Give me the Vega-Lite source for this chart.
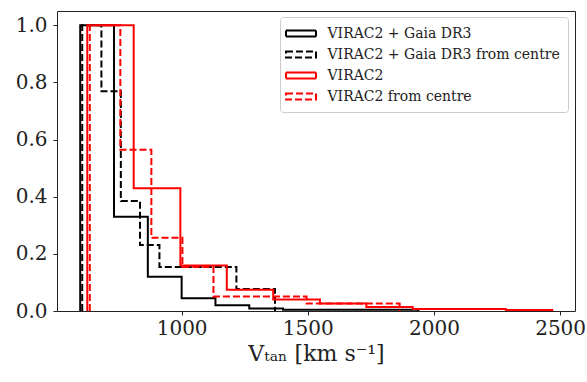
{
  "$schema": "https://vega.github.io/schema/vega-lite/v6.json",
  "autosize": {"type": "none"},
  "width": 518,
  "height": 300,
  "padding": {"left": 57, "top": 11, "right": 12, "bottom": 71},
  "background": "white",
  "config": {
    "view": {"stroke": "#222", "strokeWidth": 1},
    "font": "DejaVu Serif",
    "axis": {"grid": false, "domain": false, "tickColor": "#222", "tickSize": 4, "labelColor": "#222", "titleColor": "#222", "labelFont": "DejaVu Serif", "titleFont": "DejaVu Serif", "labelFontSize": 20, "titleFontSize": 22, "titleFontWeight": "normal"}
  },
  "data": {
    "values": [
      {"series": "VIRAC2 + Gaia DR3", "v": 598, "f": 0, "o": 0},
      {"series": "VIRAC2 + Gaia DR3", "v": 598, "f": 1, "o": 1},
      {"series": "VIRAC2 + Gaia DR3", "v": 732, "f": 0.33, "o": 2},
      {"series": "VIRAC2 + Gaia DR3", "v": 866, "f": 0.12, "o": 3},
      {"series": "VIRAC2 + Gaia DR3", "v": 1000, "f": 0.045, "o": 4},
      {"series": "VIRAC2 + Gaia DR3", "v": 1134, "f": 0.02, "o": 5},
      {"series": "VIRAC2 + Gaia DR3", "v": 1268, "f": 0.009, "o": 6},
      {"series": "VIRAC2 + Gaia DR3", "v": 1402, "f": 0.004, "o": 7},
      {"series": "VIRAC2 + Gaia DR3", "v": 1536, "f": 0.004, "o": 8},
      {"series": "VIRAC2 + Gaia DR3", "v": 1670, "f": 0.004, "o": 9},
      {"series": "VIRAC2 + Gaia DR3", "v": 1804, "f": 0.004, "o": 10},
      {"series": "VIRAC2 + Gaia DR3", "v": 1938, "f": 0, "o": 11},
      {"series": "VIRAC2 + Gaia DR3 from centre", "v": 606, "f": 0, "o": 0},
      {"series": "VIRAC2 + Gaia DR3 from centre", "v": 606, "f": 1, "o": 1},
      {"series": "VIRAC2 + Gaia DR3 from centre", "v": 682, "f": 0.769, "o": 2},
      {"series": "VIRAC2 + Gaia DR3 from centre", "v": 759, "f": 0.385, "o": 3},
      {"series": "VIRAC2 + Gaia DR3 from centre", "v": 835, "f": 0.231, "o": 4},
      {"series": "VIRAC2 + Gaia DR3 from centre", "v": 912, "f": 0.154, "o": 5},
      {"series": "VIRAC2 + Gaia DR3 from centre", "v": 988, "f": 0.154, "o": 6},
      {"series": "VIRAC2 + Gaia DR3 from centre", "v": 1064, "f": 0.154, "o": 7},
      {"series": "VIRAC2 + Gaia DR3 from centre", "v": 1141, "f": 0.154, "o": 8},
      {"series": "VIRAC2 + Gaia DR3 from centre", "v": 1217, "f": 0.077, "o": 9},
      {"series": "VIRAC2 + Gaia DR3 from centre", "v": 1294, "f": 0.077, "o": 10},
      {"series": "VIRAC2 + Gaia DR3 from centre", "v": 1370, "f": 0, "o": 11},
      {"series": "VIRAC2", "v": 626, "f": 0, "o": 0},
      {"series": "VIRAC2", "v": 626, "f": 1, "o": 1},
      {"series": "VIRAC2", "v": 810, "f": 0.43, "o": 2},
      {"series": "VIRAC2", "v": 995, "f": 0.159, "o": 3},
      {"series": "VIRAC2", "v": 1179, "f": 0.074, "o": 4},
      {"series": "VIRAC2", "v": 1363, "f": 0.04, "o": 5},
      {"series": "VIRAC2", "v": 1548, "f": 0.026, "o": 6},
      {"series": "VIRAC2", "v": 1732, "f": 0.014, "o": 7},
      {"series": "VIRAC2", "v": 1916, "f": 0.007, "o": 8},
      {"series": "VIRAC2", "v": 2100, "f": 0.007, "o": 9},
      {"series": "VIRAC2", "v": 2285, "f": 0.0035, "o": 10},
      {"series": "VIRAC2", "v": 2469, "f": 0, "o": 11},
      {"series": "VIRAC2 from centre", "v": 636, "f": 0, "o": 0},
      {"series": "VIRAC2 from centre", "v": 636, "f": 1, "o": 1},
      {"series": "VIRAC2 from centre", "v": 757, "f": 0.564, "o": 2},
      {"series": "VIRAC2 from centre", "v": 880, "f": 0.256, "o": 3},
      {"series": "VIRAC2 from centre", "v": 1003, "f": 0.154, "o": 4},
      {"series": "VIRAC2 from centre", "v": 1126, "f": 0.051, "o": 5},
      {"series": "VIRAC2 from centre", "v": 1249, "f": 0.051, "o": 6},
      {"series": "VIRAC2 from centre", "v": 1372, "f": 0.051, "o": 7},
      {"series": "VIRAC2 from centre", "v": 1495, "f": 0.026, "o": 8},
      {"series": "VIRAC2 from centre", "v": 1618, "f": 0.026, "o": 9},
      {"series": "VIRAC2 from centre", "v": 1741, "f": 0.026, "o": 10},
      {"series": "VIRAC2 from centre", "v": 1864, "f": 0, "o": 11}
    ]
  },
  "mark": {"type": "line", "interpolate": "step-after", "strokeWidth": 2},
  "encoding": {
    "x": {"field": "v", "type": "quantitative", "scale": {"domain": [506, 2559], "nice": false, "zero": false},
      "axis": {"values": [1000, 1500, 2000, 2500], "format": "d", "labelPadding": 3, "titlePadding": 5, "title": "Vₜₐₙ [km s⁻¹]"}},
    "y": {"field": "f", "type": "quantitative", "scale": {"domain": [0, 1.05], "nice": false},
      "axis": {"values": [0, 0.2, 0.4, 0.6, 0.8, 1.0], "format": ".1f", "labelPadding": 6, "title": null}},
    "order": {"field": "o", "type": "quantitative"},
    "color": {"field": "series", "type": "nominal",
      "scale": {"domain": ["VIRAC2 + Gaia DR3", "VIRAC2 + Gaia DR3 from centre", "VIRAC2", "VIRAC2 from centre"], "range": ["#000000", "#000000", "#ff0000", "#ff0000"]},
      "legend": {"title": null, "orient": "none", "legendX": 223, "legendY": 6, "padding": 8, "strokeColor": "#cccccc", "fillColor": "white", "cornerRadius": 3,
        "symbolType": "M-2,-0.4H2V0.4H-2Z", "symbolSize": 225, "symbolOffset": 4.5, "symbolStrokeWidth": 2, "symbolFillColor": "transparent", "labelFont": "DejaVu Serif", "labelFontSize": 14, "labelColor": "#222", "labelLimit": 400, "rowPadding": 5, "labelOffset": 18}},
    "strokeDash": {"field": "series", "type": "nominal",
      "scale": {"domain": ["VIRAC2 + Gaia DR3", "VIRAC2 + Gaia DR3 from centre", "VIRAC2", "VIRAC2 from centre"], "range": [[1, 0], [7, 3], [1, 0], [7, 3]]},
      "legend": {"title": null, "orient": "none", "legendX": 223, "legendY": 6, "padding": 8, "strokeColor": "#cccccc", "fillColor": "white", "cornerRadius": 3,
        "symbolType": "M-2,-0.4H2V0.4H-2Z", "symbolSize": 225, "symbolOffset": 4.5, "symbolStrokeWidth": 2, "symbolFillColor": "transparent", "labelFont": "DejaVu Serif", "labelFontSize": 14, "labelColor": "#222", "labelLimit": 400, "rowPadding": 5, "labelOffset": 18}}
  }
}
